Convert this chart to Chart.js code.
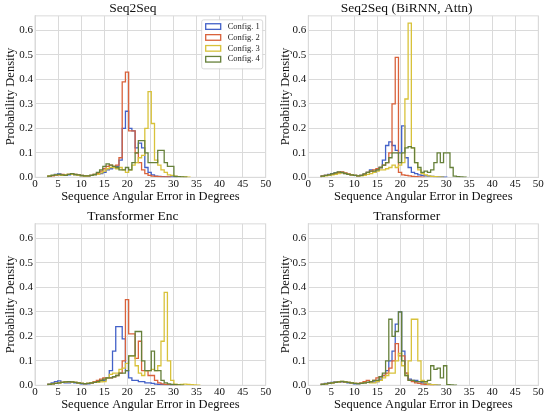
<!DOCTYPE html>
<html>
<head>
<meta charset="utf-8">
<script src="https://cdn.jsdelivr.net/npm/chart.js@4.4.0/dist/chart.umd.min.js"></script>
<style>
  html, body { margin: 0; padding: 0; background: #fff; }
  #grid { position: relative; width: 550px; height: 416px; }
  .cell { position: absolute; width: 275px; height: 208px; }
</style>
</head>
<body>
<div id="grid">
  <div class="cell" style="left:0;top:0"><canvas id="c0"></canvas></div>
  <div class="cell" style="left:275px;top:0"><canvas id="c1"></canvas></div>
  <div class="cell" style="left:0;top:208px"><canvas id="c2"></canvas></div>
  <div class="cell" style="left:275px;top:208px"><canvas id="c3"></canvas></div>
</div>
<script>
// histogram bins (degrees): left edge of first bin and bin width
const BIN_START = 2.8;
const BIN_WIDTH = 0.7;

const configs = ["Config. 1", "Config. 2", "Config. 3", "Config. 4"];
const colors = ["#4361c8", "#d9623b", "#d8c23a", "#66803a"];
const titles = ["Seq2Seq", "Seq2Seq (BiRNN, Attn)", "Transformer Enc", "Transformer"];
const xTicks = [0, 5, 10, 15, 20, 25, 30, 35, 40, 45, 50];
const yTicks = [0.0, 0.1, 0.2, 0.3, 0.4, 0.5, 0.6];

// probability density per bin
// Seq2Seq
const s2sConfig1 = [0.005,0.008,0.012,0.014,0.01,0.008,0.01,0.012,0.01,0.008,0.006,0.005,0.006,0.008,0.01,0.012,0.015,0.02,0.03,0.035,0.04,0.045,0.07,0.2,0.27,0.2,0.19,0.12,0.14,0.12,0.04,0.02,0.01,0.005,0.004,0.003,0.002,0.002,0.002,0.001];
const s2sConfig2 = [0.004,0.006,0.008,0.01,0.012,0.01,0.012,0.015,0.012,0.01,0.008,0.006,0.006,0.008,0.012,0.015,0.025,0.035,0.045,0.05,0.045,0.05,0.08,0.39,0.43,0.19,0.19,0.1,0.06,0.03,0.015,0.008,0.005,0.004,0.003,0.002,0.002,0.001];
const s2sConfig3 = [0.006,0.008,0.01,0.01,0.008,0.01,0.012,0.012,0.01,0.008,0.006,0.005,0.006,0.008,0.01,0.012,0.018,0.025,0.035,0.04,0.04,0.035,0.04,0.03,0.02,0.03,0.05,0.06,0.08,0.09,0.2,0.35,0.22,0.07,0.05,0.03,0.02,0.01,0.008,0.005,0.003,0.002,0.002,0.001];
const s2sConfig4 = [0.005,0.008,0.01,0.012,0.01,0.008,0.012,0.015,0.012,0.01,0.008,0.006,0.006,0.008,0.012,0.02,0.03,0.045,0.055,0.05,0.045,0.04,0.03,0.03,0.04,0.03,0.06,0.1,0.15,0.15,0.1,0.06,0.06,0.06,0.11,0.11,0.06,0.045,0.045,0.004,0.003,0.002,0.001];
// Seq2Seq (BiRNN, Attn)
const attnConfig1 = [0.006,0.008,0.012,0.015,0.018,0.02,0.018,0.015,0.012,0.01,0.008,0.006,0.008,0.012,0.02,0.03,0.02,0.03,0.04,0.07,0.13,0.145,0.13,0.11,0.1,0.21,0.08,0.04,0.02,0.015,0.01,0.008,0.006,0.005,0.004,0.003,0.002,0.002,0.001];
const attnConfig2 = [0.005,0.008,0.01,0.012,0.015,0.02,0.022,0.018,0.014,0.01,0.008,0.006,0.008,0.012,0.02,0.025,0.03,0.035,0.04,0.05,0.06,0.1,0.3,0.49,0.02,0.01,0.008,0.006,0.004,0.003,0.002,0.001];
const attnConfig3 = [0.004,0.006,0.008,0.01,0.012,0.015,0.018,0.015,0.012,0.01,0.008,0.006,0.006,0.008,0.012,0.015,0.02,0.025,0.03,0.03,0.035,0.04,0.05,0.04,0.05,0.06,0.32,0.63,0.12,0.06,0.03,0.015,0.01,0.006,0.004,0.003,0.002,0.001];
const attnConfig4 = [0.005,0.008,0.01,0.014,0.018,0.022,0.02,0.016,0.012,0.01,0.008,0.006,0.008,0.014,0.02,0.025,0.025,0.03,0.04,0.05,0.06,0.08,0.1,0.1,0.06,0.1,0.12,0.125,0.12,0.06,0.04,0.02,0.025,0.02,0.03,0.06,0.1,0.06,0.1,0.1,0.04,0.005,0.003,0.002,0.001];
// Transformer Enc
const encConfig1 = [0.005,0.01,0.015,0.018,0.012,0.01,0.01,0.012,0.01,0.008,0.006,0.005,0.006,0.008,0.012,0.015,0.018,0.02,0.03,0.06,0.14,0.24,0.24,0.19,0.06,0.03,0.02,0.02,0.015,0.015,0.01,0.01,0.008,0.005,0.004,0.003,0.002,0.002,0.001];
const encConfig2 = [0.004,0.006,0.008,0.01,0.012,0.014,0.015,0.014,0.012,0.01,0.008,0.007,0.008,0.01,0.015,0.02,0.025,0.03,0.03,0.03,0.035,0.04,0.05,0.1,0.35,0.21,0.21,0.11,0.18,0.06,0.06,0.04,0.04,0.02,0.01,0.006,0.004,0.003,0.002,0.001];
const encConfig3 = [0.004,0.006,0.008,0.01,0.012,0.014,0.015,0.014,0.012,0.01,0.008,0.007,0.008,0.01,0.012,0.012,0.014,0.015,0.03,0.045,0.05,0.05,0.065,0.07,0.09,0.12,0.12,0.08,0.05,0.04,0.06,0.06,0.065,0.06,0.08,0.18,0.38,0.1,0.02,0.005,0.003,0.004,0.005,0.004,0.003,0.002,0.001];
const encConfig4 = [0.004,0.006,0.008,0.01,0.012,0.014,0.015,0.014,0.012,0.01,0.008,0.007,0.008,0.01,0.012,0.015,0.02,0.025,0.03,0.03,0.035,0.04,0.05,0.05,0.06,0.12,0.12,0.22,0.22,0.1,0.06,0.06,0.14,0.06,0.06,0.02,0.01,0.006,0.004,0.003,0.002,0.001];
// Transformer
const trfConfig1 = [0.005,0.008,0.01,0.012,0.014,0.015,0.014,0.012,0.01,0.008,0.006,0.006,0.008,0.01,0.012,0.012,0.014,0.015,0.025,0.04,0.06,0.1,0.14,0.25,0.3,0.14,0.05,0.025,0.02,0.02,0.015,0.01,0.008,0.005,0.003,0.002,0.001];
const trfConfig2 = [0.004,0.006,0.008,0.01,0.012,0.014,0.015,0.014,0.012,0.01,0.008,0.008,0.01,0.015,0.02,0.015,0.02,0.03,0.035,0.04,0.05,0.07,0.1,0.17,0.12,0.12,0.05,0.02,0.015,0.01,0.008,0.005,0.003,0.002,0.001];
const trfConfig3 = [0.004,0.006,0.008,0.01,0.012,0.014,0.016,0.014,0.012,0.01,0.008,0.007,0.008,0.01,0.012,0.01,0.01,0.015,0.02,0.03,0.04,0.05,0.05,0.1,0.13,0.08,0.04,0.1,0.27,0.27,0.1,0.02,0.01,0.005,0.003,0.002,0.001];
const trfConfig4 = [0.004,0.006,0.008,0.01,0.012,0.014,0.016,0.014,0.012,0.01,0.008,0.007,0.008,0.01,0.012,0.015,0.02,0.02,0.035,0.05,0.1,0.27,0.2,0.22,0.3,0.1,0.04,0.02,0.02,0.015,0.015,0.015,0.015,0.02,0.08,0.065,0.07,0.03,0.08,0.003,0.002,0.001];

const panels = [
  [s2sConfig1, s2sConfig2, s2sConfig3, s2sConfig4],
  [attnConfig1, attnConfig2, attnConfig3, attnConfig4],
  [encConfig1, encConfig2, encConfig3, encConfig4],
  [trfConfig1, trfConfig2, trfConfig3, trfConfig4]
];

const SERIF = '"Liberation Serif", "DejaVu Serif", serif';
const GRID = "#dadada";

// outline of a step histogram (like histtype='step'):
// each point sits on a bin's left edge; 'before' stepping carries its height to the next edge
function toSteps(heights) {
  const pts = [{ x: BIN_START, y: 0 }];
  heights.forEach((h, i) => pts.push({ x: BIN_START + i * BIN_WIDTH, y: h }));
  pts.push({ x: BIN_START + heights.length * BIN_WIDTH, y: 0 });
  return pts;
}

// light frame round the plot area
const frame = {
  id: "frame",
  beforeDatasetsDraw(chart) {
    const { ctx, chartArea: a } = chart;
    ctx.save();
    ctx.strokeStyle = GRID;
    ctx.lineWidth = 1;
    ctx.strokeRect(a.left, a.top, a.right - a.left, a.bottom - a.top);
    ctx.restore();
  }
};

// legend drawn inside the axes, upper right
const insideLegend = {
  id: "insideLegend",
  afterDraw(chart) {
    const { ctx, chartArea } = chart;
    const x = chartArea.right - 64, y = chartArea.top + 4, w = 61, h = 49;
    ctx.save();
    ctx.fillStyle = "rgba(255,255,255,0.9)";
    ctx.strokeStyle = "#cfcfcf";
    ctx.lineWidth = 0.8;
    ctx.beginPath();
    ctx.roundRect(x, y, w, h, 2);
    ctx.fill();
    ctx.stroke();
    chart.data.datasets.forEach((ds, i) => {
      const cy = y + 6.7 + i * 10.9;
      ctx.strokeStyle = ds.borderColor;
      ctx.lineWidth = 1.3;
      ctx.strokeRect(x + 4, cy - 2.8, 15, 5.6);
      ctx.fillStyle = "#222";
      ctx.font = "8.5px " + SERIF;
      ctx.textBaseline = "middle";
      ctx.fillText(ds.label, x + 26, cy);
    });
    ctx.restore();
  }
};

function makeChart(id, p, yWidth, padRight) {
  const plugins = [frame];
  if (p === 0) plugins.push(insideLegend);
  return new Chart(id, {
    type: "line",
    data: {
      datasets: panels[p].map((h, i) => ({
        label: configs[i],
        data: toSteps(h),
        borderColor: colors[i],
        borderWidth: 1.3,
        pointRadius: 0,
        fill: false,
        stepped: "before",
        order: 3 - i
      }))
    },
    options: {
      responsive: true,
      maintainAspectRatio: false,
      animation: false,
      layout: { padding: { top: 1, right: padRight, bottom: 0, left: 0 } },
      plugins: {
        legend: { display: false },
        tooltip: { enabled: false },
        title: {
          display: true, text: titles[p], color: "#111", padding: 0,
          font: { family: SERIF, size: 13.5, weight: "normal", lineHeight: 1.1 }
        }
      },
      scales: {
        x: {
          type: "linear", min: xTicks[0], max: xTicks[xTicks.length - 1],
          afterBuildTicks: s => { s.ticks = xTicks.map(v => ({ value: v })); },
          ticks: { color: "#111", padding: 0, maxRotation: 0, font: { family: SERIF, size: 11 } },
          grid: { color: GRID, drawTicks: false },
          border: { color: GRID },
          title: {
            display: true, text: "Sequence Angular Error in Degrees", color: "#111",
            padding: { top: 0, bottom: 3.8 }, font: { family: SERIF, size: 12.5 }
          },
          afterFit: s => { s.height = 30.7; }
        },
        y: {
          min: 0, max: 0.66,
          afterBuildTicks: s => { s.ticks = yTicks.map(v => ({ value: v })); },
          ticks: { color: "#111", padding: 2, callback: v => v.toFixed(1), font: { family: SERIF, size: 11 } },
          grid: { color: GRID, drawTicks: false },
          border: { color: GRID },
          title: {
            display: true, text: "Probability Density", color: "#111",
            padding: { top: 3.5, bottom: 0 }, font: { family: SERIF, size: 12.5 }
          },
          afterFit: s => { s.width = yWidth; }
        }
      }
    },
    plugins: plugins
  });
}

makeChart("c0", 0, 35, 9.3);
makeChart("c1", 1, 33.3, 11.7);
makeChart("c2", 2, 35, 9.3);
makeChart("c3", 3, 33.3, 11.7);
</script>
</body>
</html>
